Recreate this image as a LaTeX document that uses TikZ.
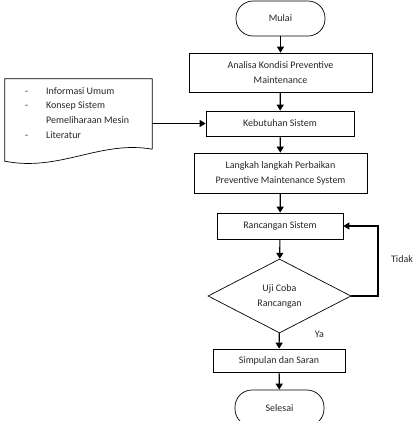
\documentclass[tikz,border=0pt]{standalone}
\usepackage{fontspec}
\setmainfont{Carlito}
\usetikzlibrary{shapes.geometric,arrows.meta}
\begin{document}
\begin{tikzpicture}[x=1pt,y=-1pt,
  every node/.style={font=\fontsize{10}{15}\selectfont, text=black!85},
  box/.style={draw, line width=0.7pt, align=center, inner sep=0pt, rectangle},
  term/.style={box, rounded corners=17pt},
  arr/.style={-{Triangle[length=6pt,width=7pt]}, line width=1.2pt},
  plain/.style={inner sep=0pt, anchor=base west}]
\useasboundingbox (0,0) rectangle (415,421);
\clip (0,0) rectangle (415,421);
\node[term, minimum width=89pt, minimum height=35pt] (mulai) at (280.5,18.5) {Mulai};
\node[box, minimum width=183pt, minimum height=39pt] (analisa) at (280.5,72.5) {Analisa Kondisi Preventive\\Maintenance};
\node[box, minimum width=148pt, minimum height=25pt] (keb) at (280,123.5) {Kebutuhan Sistem};
\node[box, minimum width=173pt, minimum height=40pt] (langkah) at (280.5,173) {Langkah langkah Perbaikan\\Preventive Maintenance System};
\node[box, minimum width=126pt, minimum height=26pt] (ran) at (280,226) {Rancangan Sistem};
\node[draw, line width=0.7pt, diamond, inner sep=0pt, minimum width=143pt, minimum height=74pt, align=center] (uji) at (279.5,296) {Uji Coba\\Rancangan};
\node[box, minimum width=132pt, minimum height=23pt] (simp) at (279,360.5) {Simpulan dan Saran};
\node[term, minimum width=89pt, minimum height=36pt] (sel) at (279.5,408) {Selesai};
% document shape
\node[minimum width=147pt, minimum height=70pt, inner sep=0pt] (doc) at (78.5,114) {};
\draw[line width=0.7pt] (doc.south east) -- (doc.north east) -- (doc.north west) -- ([yshift=-12pt]doc.south west)
  .. controls (60,172) and (100,140) .. (doc.south east);
\node[plain] (d1) at (25,94) {-};
\node[plain] (t1) at (46,94) {Informasi Umum};
\node[plain] (d2) at (25,108.5) {-};
\node[plain] (t2) at (46,108.5) {Konsep Sistem};
\node[plain] (t3) at (46,123) {Pemeliharaan Mesin};
\node[plain] (d4) at (25,138.5) {-};
\node[plain] (t4) at (46,138.5) {Literatur};
% connectors
\draw[arr] (mulai) -- (analisa);
\draw[arr] (analisa) -- (keb);
\draw[arr] (doc.east |- keb.west) -- (keb.west);
\draw[arr] (keb) -- (langkah);
\draw[arr] (langkah) -- (ran);
\draw[arr] (ran) -- (uji);
\draw[arr] (uji) -- (simp);
\draw[arr] (simp) -- (sel);
\coordinate (loop) at (378,226);
\draw[arr] (uji.east) -| (loop) -- (ran.east);
\node (tidak) at (402,259) {Tidak};
\node (ya) at (319.5,334) {Ya};
\end{tikzpicture}
\end{document}
